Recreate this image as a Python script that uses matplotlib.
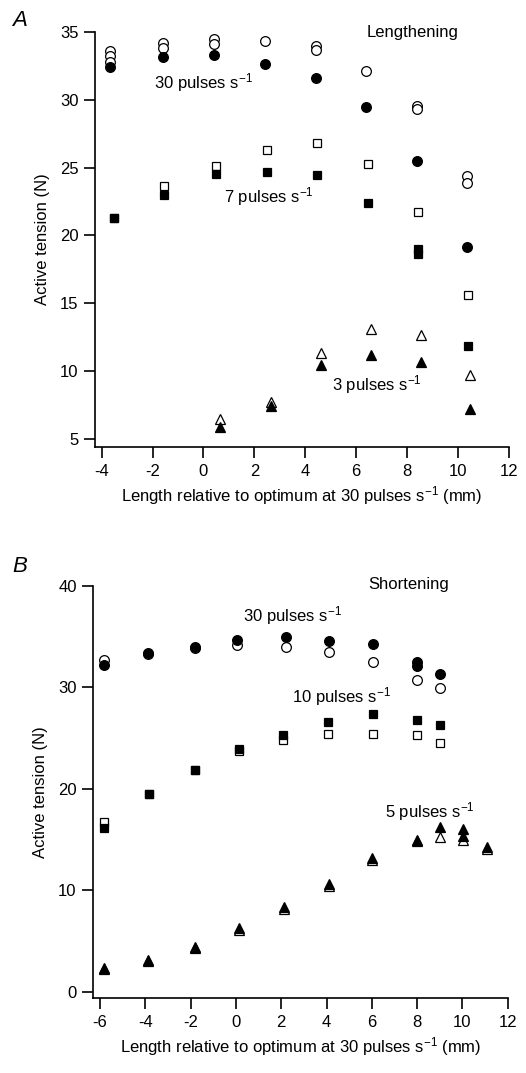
import matplotlib
matplotlib.use("Agg")
import matplotlib.pyplot as plt

plt.rcParams["font.family"] = ["Liberation Sans", "DejaVu Sans"]
plt.rcParams["mathtext.fontset"] = "custom"
plt.rcParams["mathtext.rm"] = "Liberation Sans"
plt.rcParams["mathtext.default"] = "regular"
plt.rcParams["axes.unicode_minus"] = False

# ---------- data: A (lengthening) ----------
a_x30_open = [-3.67, -3.67, -3.67, -1.58, -1.58, 0.4, 0.4, 2.42, 4.42, 4.42, 6.39, 8.38, 8.38, 10.34, 10.34]
a_y30_open = [33.6, 33.2, 32.8, 34.2, 33.85, 34.45, 34.15, 34.3, 33.95, 33.7, 32.15, 29.55, 29.3, 24.4, 23.85]
a_x30_fill = [-3.67, -1.58, 0.4, 2.42, 4.42, 6.39, 8.38, 10.34]
a_y30_fill = [32.45, 33.15, 33.27, 32.63, 31.62, 29.45, 25.52, 19.15]

a_x7_open = [-3.5, -1.55, 0.48, 2.48, 4.45, 6.45, 8.44, 10.4]
a_y7_open = [21.3, 23.65, 25.15, 26.3, 26.85, 25.3, 21.7, 15.6]
a_x7_fill = [-3.5, -1.55, 0.48, 2.48, 4.45, 6.45, 8.44, 8.44, 10.4]
a_y7_fill = [21.28, 23.0, 24.55, 24.67, 24.47, 22.43, 19.0, 18.6, 11.86]

a_x3_open = [0.66, 2.64, 4.6, 6.58, 8.55, 10.47]
a_y3_open = [6.47, 7.75, 11.36, 13.09, 12.67, 9.72]
a_x3_fill = [0.66, 2.64, 4.6, 6.58, 8.55, 10.47]
a_y3_fill = [5.9, 7.46, 10.46, 11.19, 10.66, 7.21]

# ---------- data: B (shortening) ----------
b_x30_open = [-5.85, -3.9, -1.81, 0.06, 2.2, 4.12, 6.04, 7.98, 9.01]
b_y30_open = [32.68, 33.3, 33.9, 34.16, 33.99, 33.5, 32.51, 30.71, 29.89]
b_x30_fill = [-5.85, -3.9, -1.81, 0.06, 2.2, 4.12, 6.04, 7.98, 7.98, 9.01]
b_y30_fill = [32.19, 33.4, 33.96, 34.65, 34.98, 34.58, 34.23, 32.5, 32.1, 31.27]

b_x10_open = [-5.81, -3.82, -1.81, 0.14, 2.07, 4.08, 6.04, 8.01, 9.01]
b_y10_open = [16.75, 19.5, 21.8, 23.7, 24.8, 25.39, 25.39, 25.29, 24.53]
b_x10_fill = [-5.81, -3.82, -1.81, 0.14, 2.07, 4.08, 6.04, 8.01, 9.01]
b_y10_fill = [16.1, 19.45, 21.84, 23.88, 25.29, 26.6, 27.36, 26.77, 26.28]

b_x5_open = [-5.81, -3.89, -1.81, 0.14, 2.12, 4.11, 6.0, 7.98, 9.01, 10.01, 11.1]
b_y5_open = [2.2, 3.0, 4.3, 6.1, 8.1, 10.4, 12.95, 14.8, 15.21, 14.95, 14.1]
b_x5_fill = [-5.81, -3.89, -1.81, 0.14, 2.12, 4.11, 6.0, 7.98, 9.01, 10.01, 10.01, 11.1]
b_y5_fill = [2.3, 3.12, 4.43, 6.25, 8.3, 10.58, 13.14, 14.95, 16.26, 16.03, 15.34, 14.23]

a_xticks = [-4, -2, 0, 2, 4, 6, 8, 10, 12]
a_yticks = [5, 10, 15, 20, 25, 30, 35]
b_xticks = [-6, -4, -2, 0, 2, 4, 6, 8, 10, 12]
b_yticks = [0, 10, 20, 30, 40]

XLABEL = r"Length relative to optimum at 30 pulses s$^{-1}$ (mm)"
YLABEL = "Active tension (N)"
FS = 12


def pts(ax, x, y, marker, filled, ms):
    ax.plot(x, y, linestyle="none", marker=marker, markersize=ms,
            markerfacecolor="black" if filled else "white",
            markeredgecolor="black", markeredgewidth=0.9, clip_on=False)


def style(ax, xticks, yticks):
    for s in ("top", "right"):
        ax.spines[s].set_visible(False)
    for s in ("left", "bottom"):
        ax.spines[s].set_linewidth(1.2)
    ax.set_xticks(xticks)
    ax.set_yticks(yticks)
    ax.tick_params(direction="out", length=8, width=1.2, labelsize=FS, pad=4)
    ax.set_xlabel(XLABEL, fontsize=FS, labelpad=4)
    ax.set_ylabel(YLABEL, fontsize=FS, labelpad=7)


fig = plt.figure(figsize=(5.26, 10.73), dpi=100)

# panel A
axA = fig.add_axes([0.1806, 0.5834, 0.7871, 0.3868])
pts(axA, a_x30_open, a_y30_open, "o", False, 7)
pts(axA, a_x30_fill, a_y30_fill, "o", True, 7)
pts(axA, a_x7_open, a_y7_open, "s", False, 6.3)
pts(axA, a_x7_fill, a_y7_fill, "s", True, 6.3)
pts(axA, a_x3_open, a_y3_open, "^", False, 7)
pts(axA, a_x3_fill, a_y3_fill, "^", True, 7)
axA.set_xlim(-4.26, 12)
axA.set_ylim(4.41, 35)
style(axA, a_xticks, a_yticks)
axA.text(8.23, 34.93, "Lengthening", ha="center", va="center", fontsize=FS)
axA.text(-1.95, 31.24, r"30 pulses s$^{-1}$", va="center", fontsize=FS)
axA.text(0.8, 22.84, r"7 pulses s$^{-1}$", va="center", fontsize=FS)
axA.text(5.05, 8.98, r"3 pulses s$^{-1}$", va="center", fontsize=FS)

# panel B
axB = fig.add_axes([0.1774, 0.0696, 0.7878, 0.3846])
pts(axB, b_x30_open, b_y30_open, "o", False, 7)
pts(axB, b_x30_fill, b_y30_fill, "o", True, 7)
pts(axB, b_x10_open, b_y10_open, "s", False, 6.3)
pts(axB, b_x10_fill, b_y10_fill, "s", True, 6.3)
pts(axB, b_x5_open, b_y5_open, "^", False, 7)
pts(axB, b_x5_fill, b_y5_fill, "^", True, 7)
axB.set_xlim(-6.3, 12)
axB.set_ylim(-0.65, 40)
style(axB, b_xticks, b_yticks)
axB.text(7.64, 40.07, "Shortening", ha="center", va="center", fontsize=FS)
axB.text(0.3, 37.1, r"30 pulses s$^{-1}$", va="center", fontsize=FS)
axB.text(2.48, 29.03, r"10 pulses s$^{-1}$", va="center", fontsize=FS)
axB.text(6.58, 17.73, r"5 pulses s$^{-1}$", va="center", fontsize=FS)

# panel letters
fig.text(12 / 526, 1 - 20 / 1073, "A", fontsize=16, style="italic", va="center")
fig.text(12 / 526, 1 - 566 / 1073, "B", fontsize=16, style="italic", va="center")

fig.savefig("out.png", dpi=100)
